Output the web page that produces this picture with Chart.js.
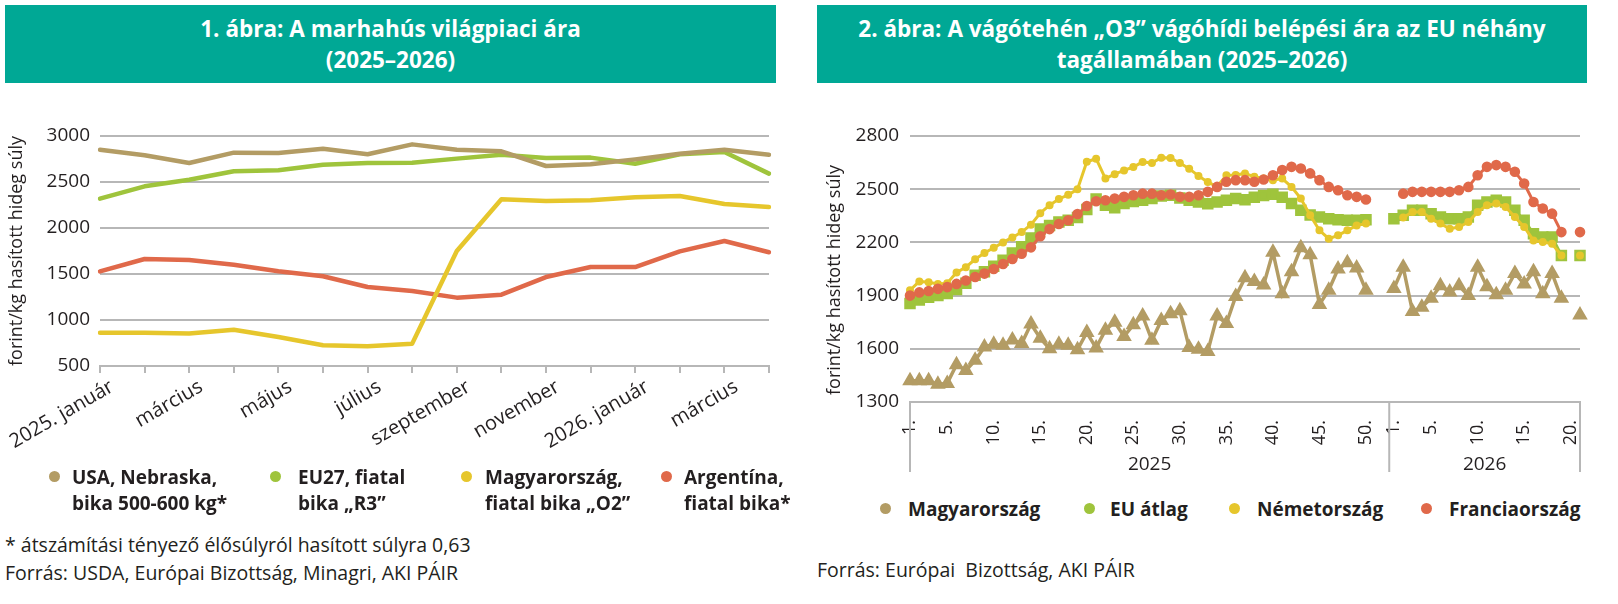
<!DOCTYPE html>
<html lang="hu">
<head>
<meta charset="utf-8">
<title>Marhahús árak</title>
<script src="https://cdn.jsdelivr.net/npm/chart.js@4.4.0/dist/chart.umd.min.js"></script>
<style>
  html, body { margin: 0; padding: 0; background: #fff; }
  body { width: 1618px; height: 604px; position: relative; overflow: hidden; font-family: "Open Sans", sans-serif; color: #231f20; }
  .title { position: absolute; top: 5px; height: 78px; background: #00a895; color: #fff; font-weight: 700; font-size: 22.5px; line-height: 31px; display: flex; align-items: center; justify-content: center; text-align: center; }
  canvas { position: absolute; }
  .leg { position: absolute; font-weight: 700; font-size: 19px; line-height: 26px; white-space: nowrap; }
  .dot { position: absolute; width: 11px; height: 11px; border-radius: 50%; }
  .note { position: absolute; font-size: 19.5px; line-height: 24px; white-space: pre; }
  .ytitle { position: absolute; width: 300px; height: 24px; font-size: 18px; line-height: 24px; text-align: center; transform: rotate(-90deg); transform-origin: center; white-space: nowrap; }
</style>
</head>
<body>

<div class="title" style="left:5px; width:771px;">1. ábra: A marhahús világpiaci ára<br>(2025–2026)</div>
<div class="title" style="left:817px; width:770px;">2. ábra: A vágótehén „O3” vágóhídi belépési ára az EU néhány<br>tagállamában (2025–2026)</div>

<canvas id="chart1" width="790" height="380" style="left:0; top:100px;"></canvas>
<canvas id="chart2" width="810" height="390" style="left:800px; top:100px;"></canvas>
<div class="ytitle" style="left:683px; top:268px;">forint/kg hasított hideg súly</div>

<!-- 1. ábra jelmagyarázat -->
<div class="dot" style="left:49px; top:471px; background:#b39c64;"></div>
<div class="leg" style="left:72px; top:464px;">USA, Nebraska,<br>bika 500-600 kg*</div>
<div class="dot" style="left:270px; top:471px; background:#9fc43c;"></div>
<div class="leg" style="left:298px; top:464px;">EU27, fiatal<br>bika „R3”</div>
<div class="dot" style="left:461px; top:471px; background:#e6c62c;"></div>
<div class="leg" style="left:485px; top:464px;">Magyarország,<br>fiatal bika „O2”</div>
<div class="dot" style="left:661px; top:471px; background:#e0694a;"></div>
<div class="leg" style="left:684px; top:464px;">Argentína,<br>fiatal bika*</div>

<div class="note" style="left:5px; top:533px;">* átszámítási tényező élősúlyról hasított súlyra 0,63</div>
<div class="note" style="left:5px; top:561px;">Forrás: USDA, Európai Bizottság, Minagri, AKI PÁIR</div>

<!-- 2. ábra jelmagyarázat -->
<div class="dot" style="left:880px; top:503px; background:#b39c64;"></div>
<div class="leg" style="left:908px; top:496px;">Magyarország</div>
<div class="dot" style="left:1084px; top:503px; background:#9fc43c;"></div>
<div class="leg" style="left:1110px; top:496px;">EU átlag</div>
<div class="dot" style="left:1229px; top:503px; background:#e6c62c;"></div>
<div class="leg" style="left:1257px; top:496px;">Németország</div>
<div class="dot" style="left:1421px; top:503px; background:#e0694a;"></div>
<div class="leg" style="left:1449px; top:496px;">Franciaország</div>

<div class="note" style="left:817px; top:558px;">Forrás: Európai  Bizottság, AKI PÁIR</div>

<script>
// 1. ábra – havi adatok, forint/kg hasított hideg súly
const months = ['2025. január', 'február', 'március', 'április', 'május', 'június', 'július', 'augusztus',
                'szeptember', 'október', 'november', 'december', '2026. január', 'február', 'március', 'április'];
const usaNebraska = [2851, 2790, 2707, 2819, 2815, 2862, 2801, 2909, 2851, 2833, 2674, 2692, 2746, 2808, 2851, 2797];
const eu27R3 = [2319, 2453, 2525, 2616, 2627, 2688, 2707, 2710, 2754, 2797, 2761, 2765, 2699, 2801, 2826, 2591];
const magyarO2 = [862, 862, 852, 895, 815, 725, 714, 743, 1750, 2312, 2293, 2301, 2333, 2348, 2261, 2228];
const argentina = [1529, 1663, 1652, 1601, 1529, 1475, 1359, 1315, 1243, 1275, 1467, 1576, 1576, 1746, 1859, 1736];

// 2. ábra – heti adatok (2025: 1-52. hét, 2026: 1-21. hét)
const years = ['2025', '2026'];
const weeksPerYear = [52, 21];
const weekNo = [1, 2, 3, 4, 5, 6, 7, 8, 9, 10, 11, 12, 13, 14, 15, 16, 17, 18, 19, 20, 21, 22, 23, 24, 25, 26,
                27, 28, 29, 30, 31, 32, 33, 34, 35, 36, 37, 38, 39, 40, 41, 42, 43, 44, 45, 46, 47, 48, 49, 50, 51, 52,
                1, 2, 3, 4, 5, 6, 7, 8, 9, 10, 11, 12, 13, 14, 15, 16, 17, 18, 19, 20, 21];
const labeledWeeks = [1, 5, 10, 15, 20, 25, 30, 35, 40, 45, 50];

const magyarorszag = [1420, 1420, 1420, 1400, 1405, 1510, 1478, 1535, 1610, 1625, 1620, 1650, 1630, 1740, 1660, 1600,
                      1625, 1620, 1595, 1692, 1605, 1705, 1750, 1670, 1735, 1785, 1648, 1760, 1798, 1815, 1607, 1598,
                      1585, 1785, 1742, 1895, 2000, 1980, 1960, 2145, 1910, 2035, 2170, 2130, 1850, 1930, 2050, 2085,
                      2055, 1930, null, null,
                      1940, 2060, 1810, 1835, 1885, 1955, 1920, 1955, 1900, 2060, 1950, 1905, 1930, 2025, 1965, 2035,
                      1910, 2025, 1885, null, 1790];
const euAtlag = [1855, 1875, 1890, 1900, 1912, 1935, 1970, 2015, 2035, 2065, 2100, 2140, 2175, 2225, 2275, 2295,
                 2315, 2325, 2340, 2385, 2445, 2410, 2395, 2420, 2430, 2438, 2447, 2462, 2466, 2450, 2438, 2428,
                 2418, 2428, 2438, 2447, 2440, 2455, 2465, 2472, 2455, 2419, 2381, 2355, 2343, 2334, 2328, 2325,
                 2325, 2328, null, null,
                 2334, 2353, 2381, 2381, 2362, 2343, 2334, 2334, 2343, 2409, 2428, 2438, 2428, 2381, 2325, 2249,
                 2230, 2230, 2126, null, 2126];
const nemetorszag = [1930, 1980, 1975, 1965, 1970, 2030, 2060, 2105, 2140, 2170, 2200, 2228, 2258, 2300, 2365, 2410,
                     2445, 2468, 2500, 2655, 2672, 2560, 2585, 2606, 2625, 2654, 2648, 2678, 2676, 2648, 2616, 2575,
                     2540, 2515, 2578, 2580, 2589, 2570, 2560, 2551, 2560, 2513, 2447, 2353, 2268, 2221, 2240, 2268,
                     2296, 2306, null, null,
                     null, 2340, 2372, 2372, 2334, 2306, 2277, 2287, 2315, 2372, 2409, 2419, 2400, 2343, 2287, 2211,
                     2202, 2192, 2126, null, 2126];
const franciaorszag = [1900, 1918, 1926, 1938, 1948, 1966, 1985, 2005, 2024, 2050, 2078, 2106, 2136, 2172, 2235, 2275,
                       2304, 2325, 2360, 2405, 2432, 2438, 2447, 2457, 2466, 2475, 2475, 2466, 2470, 2457, 2457, 2466,
                       2485, 2513, 2542, 2551, 2551, 2542, 2555, 2579, 2608, 2626, 2617, 2589, 2551, 2513, 2494, 2466,
                       2457, 2442, null, null,
                       null, 2475, 2485, 2485, 2485, 2485, 2485, 2494, 2513, 2579, 2626, 2636, 2626, 2598, 2532, 2428,
                       2391, 2362, 2258, null, 2258];

const TAN = '#b39c64';
const GREEN = '#9fc43c';
const YELLOW = '#e6c62c';
const RED = '#e0694a';
const GRID = '#b7b7b7';
const TEXT = '#231f20';
const FONT = '"Open Sans", sans-serif';

// évek sora a 2. ábra kategóriatengelye alatt
const yearRow = {
    id: 'yearRow',
    afterDraw(chart) {
        const { ctx, chartArea, scales: { x } } = chart;
        const edges = [x.getPixelForValue(0)];
        let idx = 0;
        weeksPerYear.forEach((n, k) => {
            idx += n;
            if (k < weeksPerYear.length - 1) {
                edges.push((x.getPixelForValue(idx - 1) + x.getPixelForValue(idx)) / 2);
            } else {
                edges.push(x.getPixelForValue(idx - 1));
            }
        });
        ctx.save();
        ctx.strokeStyle = GRID;
        ctx.lineWidth = 2;
        edges.forEach(px => {
            ctx.beginPath();
            ctx.moveTo(px, chartArea.bottom);
            ctx.lineTo(px, chartArea.bottom + 70);
            ctx.stroke();
        });
        ctx.fillStyle = TEXT;
        ctx.font = '19px ' + FONT;
        ctx.textAlign = 'center';
        ctx.textBaseline = 'middle';
        years.forEach((yr, k) => {
            ctx.fillText(yr, (edges[k] + edges[k + 1]) / 2, chartArea.bottom + 63);
        });
        ctx.restore();
    }
};

const plainNumber = value => String(value);

function createWorldChart() {
    new Chart(document.getElementById('chart1'), {
        type: 'line',
        data: {
            labels: months,
            datasets: [
                { label: 'Magyarország, fiatal bika „O2”', data: magyarO2, borderColor: YELLOW },
                { label: 'Argentína, fiatal bika*', data: argentina, borderColor: RED },
                { label: 'USA, Nebraska, bika 500-600 kg*', data: usaNebraska, borderColor: TAN },
                { label: 'EU27, fiatal bika „R3”', data: eu27R3, borderColor: GREEN }
            ]
        },
        options: {
            responsive: false,
            animation: false,
            devicePixelRatio: 1,
            layout: { padding: { top: 36, right: 21, left: 0, bottom: 0 } },
            plugins: { legend: { display: false }, tooltip: { enabled: false } },
            elements: {
                point: { radius: 0 },
                line: { borderWidth: 4.5, tension: 0, borderJoinStyle: 'round', borderCapStyle: 'round' }
            },
            scales: {
                x: {
                    grid: { display: true, drawOnChartArea: false, drawTicks: true, tickLength: 7, color: GRID, lineWidth: 2 },
                    border: { display: true, color: GRID, width: 2 },
                    ticks: {
                        autoSkip: false, minRotation: 30, maxRotation: 30, padding: 2, labelOffset: 12, color: TEXT,
                        font: { family: FONT, size: 20 },
                        callback: (v, i) => (i % 2 === 0 ? months[i] : '')
                    },
                    afterFit: s => { s.height = 114; s.paddingLeft = 0; s.paddingRight = 0; }
                },
                y: {
                    min: 500, max: 3000,
                    grid: { color: GRID, lineWidth: 2, drawTicks: false },
                    border: { display: false },
                    ticks: { stepSize: 500, padding: 10, color: TEXT, font: { family: FONT, size: 19 }, callback: plainNumber },
                    title: {
                        display: true, text: 'forint/kg hasított hideg súly', color: TEXT,
                        font: { family: FONT, size: 18 }, padding: { top: 6, bottom: 0 }
                    },
                    afterFit: s => { s.width = 100; }
                }
            }
        }
    });
}

function createEuChart() {
    new Chart(document.getElementById('chart2'), {
        type: 'line',
        data: {
            labels: weekNo,
            datasets: [
                { label: 'Magyarország', data: magyarorszag, borderColor: TAN, backgroundColor: TAN,
                  pointStyle: 'triangle', pointRadius: 5.5, borderWidth: 3.5, order: 4 },
                { label: 'EU átlag', data: euAtlag, borderColor: GREEN, backgroundColor: GREEN,
                  pointStyle: 'rect', pointRadius: 6, borderWidth: 3, order: 3 },
                { label: 'Németország', data: nemetorszag, borderColor: YELLOW, backgroundColor: YELLOW,
                  pointStyle: 'circle', pointRadius: 2.5, borderWidth: 3, order: 2 },
                { label: 'Franciaország', data: franciaorszag, borderColor: RED, backgroundColor: RED,
                  pointStyle: 'circle', pointRadius: 3.8, borderWidth: 3, order: 1 }
            ]
        },
        options: {
            responsive: false,
            animation: false,
            devicePixelRatio: 1,
            layout: { padding: { top: 36, right: 30, left: 0, bottom: 0 } },
            plugins: { legend: { display: false }, tooltip: { enabled: false } },
            elements: { line: { tension: 0 }, point: { borderWidth: 0 } },
            scales: {
                x: {
                    grid: { display: false },
                    border: { display: true, color: GRID, width: 2 },
                    ticks: {
                        autoSkip: false, minRotation: 90, maxRotation: 90, padding: 10, color: TEXT,
                        font: { family: FONT, size: 18 },
                        callback: (v, i) => (labeledWeeks.includes(weekNo[i]) ? weekNo[i] + '.' : '')
                    },
                    afterFit: s => { s.height = 88; s.paddingLeft = 0; s.paddingRight = 0; }
                },
                y: {
                    min: 1300, max: 2800,
                    grid: { color: GRID, lineWidth: 2, drawTicks: false },
                    border: { display: false },
                    ticks: { stepSize: 300, padding: 11, color: TEXT, font: { family: FONT, size: 19 }, callback: plainNumber },
                    title: { display: false },
                    afterFit: s => { s.width = 110; }
                }
            }
        },
        plugins: [yearRow]
    });
}

document.addEventListener('DOMContentLoaded', function() {
    createWorldChart();
    createEuChart();
});
</script>
</body>
</html>
